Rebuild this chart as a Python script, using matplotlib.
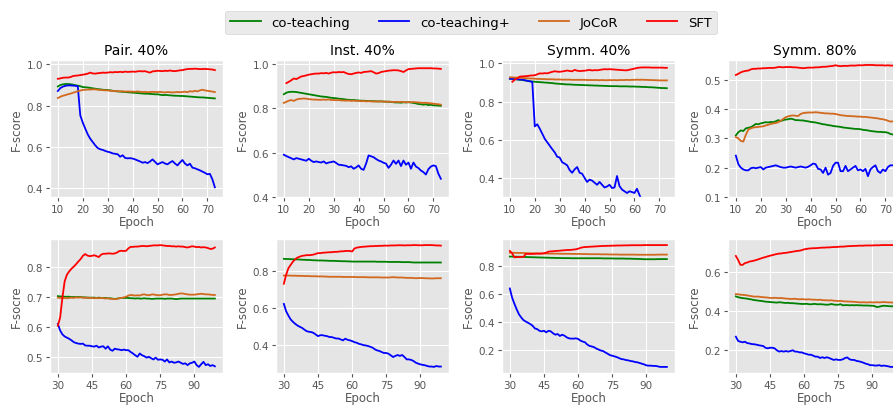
import numpy as np
import matplotlib
matplotlib.use('Agg')
import matplotlib.pyplot as plt

plt.style.use('ggplot')

top_epochs = np.arange(10, 74)
bottom_epochs = np.arange(30, 100)
nan = np.nan

methods = ['co-teaching', 'co-teaching+', 'JoCoR', 'SFT']
colors = ['green', 'blue', 'chocolate', 'red']
titles = ['Pair. 40%', 'Inst. 40%', 'Symm. 40%', 'Symm. 80%']

# ---- top row (epochs 10..73) ----
pair_ct = [0.893, 0.900, 0.903, 0.905, 0.905, 0.904, 0.902, 0.899, 0.897, 0.894, 0.890, 0.889, 0.888, 0.886, 0.884, 0.882,
           0.880, 0.879, 0.877, 0.876, 0.876, 0.874, 0.872, 0.870, 0.869, 0.868, 0.867, 0.866, 0.865, 0.864, 0.863, 0.862,
           0.861, 0.860, 0.859, 0.858, 0.858, 0.857, 0.856, 0.855, 0.855, 0.853, 0.851, 0.852, 0.851, 0.850, 0.849, 0.848,
           0.848, 0.847, 0.847, 0.846, 0.845, 0.844, 0.843, 0.842, 0.841, 0.840, 0.840, 0.839, 0.838, 0.837, 0.836, 0.835]
pair_ctp = [0.871, 0.885, 0.892, 0.896, 0.898, 0.898, 0.897, 0.896, 0.894, 0.753, 0.718, 0.689, 0.661, 0.640, 0.624, 0.608,
            0.595, 0.589, 0.586, 0.581, 0.577, 0.574, 0.569, 0.567, 0.565, 0.553, 0.560, 0.547, 0.545, 0.546, 0.544, 0.540,
            0.535, 0.530, 0.524, 0.527, 0.522, 0.530, 0.540, 0.528, 0.516, 0.522, 0.527, 0.520, 0.516, 0.525, 0.532, 0.520,
            0.511, 0.525, 0.537, 0.520, 0.511, 0.519, 0.500, 0.497, 0.492, 0.487, 0.481, 0.475, 0.468, 0.470, 0.444, 0.405]
pair_jocor = [0.837, 0.843, 0.848, 0.851, 0.855, 0.858, 0.862, 0.866, 0.870, 0.873, 0.876, 0.877, 0.878, 0.878, 0.879, 0.879,
              0.877, 0.876, 0.875, 0.874, 0.874, 0.872, 0.871, 0.871, 0.870, 0.869, 0.870, 0.868, 0.869, 0.868, 0.868, 0.867,
              0.869, 0.867, 0.866, 0.867, 0.865, 0.866, 0.867, 0.866, 0.866, 0.867, 0.865, 0.864, 0.866, 0.865, 0.864, 0.865,
              0.866, 0.865, 0.866, 0.868, 0.865, 0.870, 0.868, 0.872, 0.869, 0.874, 0.877, 0.874, 0.872, 0.870, 0.868, 0.866]
pair_sft = [0.930, 0.932, 0.935, 0.936, 0.936, 0.938, 0.943, 0.945, 0.946, 0.948, 0.950, 0.952, 0.955, 0.960, 0.956, 0.955,
            0.957, 0.958, 0.960, 0.959, 0.960, 0.962, 0.961, 0.963, 0.962, 0.964, 0.962, 0.965, 0.963, 0.964, 0.965, 0.964,
            0.966, 0.967, 0.966, 0.967, 0.963, 0.960, 0.966, 0.967, 0.969, 0.968, 0.967, 0.969, 0.968, 0.970, 0.968, 0.967,
            0.969, 0.971, 0.972, 0.975, 0.977, 0.978, 0.978, 0.979, 0.978, 0.977, 0.977, 0.978, 0.977, 0.976, 0.975, 0.972]

inst_ct = [0.862, 0.869, 0.872, 0.873, 0.873, 0.872, 0.870, 0.868, 0.866, 0.864, 0.862, 0.860, 0.858, 0.856, 0.854, 0.852,
           0.851, 0.850, 0.848, 0.846, 0.845, 0.844, 0.842, 0.841, 0.840, 0.838, 0.837, 0.836, 0.836, 0.835, 0.834, 0.833,
           0.833, 0.832, 0.832, 0.831, 0.831, 0.830, 0.830, 0.830, 0.829, 0.829, 0.828, 0.828, 0.826, 0.825, 0.825, 0.824,
           0.826, 0.825, 0.826, 0.825, 0.823, 0.821, 0.818, 0.817, 0.815, 0.817, 0.813, 0.815, 0.812, 0.812, 0.811, 0.810]
inst_ctp = [0.590, 0.584, 0.579, 0.574, 0.569, 0.575, 0.572, 0.569, 0.566, 0.563, 0.572, 0.563, 0.557, 0.560, 0.557, 0.555,
            0.560, 0.551, 0.555, 0.557, 0.560, 0.553, 0.545, 0.544, 0.542, 0.540, 0.534, 0.538, 0.527, 0.533, 0.542, 0.527,
            0.522, 0.550, 0.587, 0.583, 0.579, 0.571, 0.564, 0.560, 0.554, 0.550, 0.531, 0.545, 0.564, 0.549, 0.564, 0.539,
            0.564, 0.545, 0.555, 0.527, 0.555, 0.537, 0.530, 0.519, 0.512, 0.501, 0.525, 0.537, 0.542, 0.539, 0.505, 0.482]
inst_jocor = [0.823, 0.828, 0.833, 0.836, 0.832, 0.838, 0.841, 0.842, 0.843, 0.842, 0.840, 0.839, 0.838, 0.838, 0.837, 0.837,
              0.838, 0.837, 0.839, 0.836, 0.836, 0.835, 0.836, 0.834, 0.834, 0.833, 0.834, 0.832, 0.833, 0.832, 0.832, 0.831,
              0.832, 0.830, 0.831, 0.830, 0.829, 0.830, 0.829, 0.830, 0.829, 0.828, 0.829, 0.828, 0.827, 0.828, 0.827, 0.828,
              0.827, 0.826, 0.827, 0.826, 0.827, 0.826, 0.825, 0.824, 0.823, 0.824, 0.822, 0.821, 0.820, 0.818, 0.817, 0.815]
inst_sft = [nan, 0.912, 0.918, 0.925, 0.933, 0.930, 0.936, 0.942, 0.944, 0.947, 0.950, 0.952, 0.954, 0.955, 0.955, 0.957,
            0.956, 0.958, 0.955, 0.959, 0.961, 0.960, 0.962, 0.961, 0.962, 0.957, 0.953, 0.952, 0.955, 0.958, 0.960, 0.958,
            0.962, 0.963, 0.964, 0.966, 0.961, 0.955, 0.957, 0.962, 0.964, 0.966, 0.968, 0.969, 0.970, 0.970, 0.969, 0.966,
            0.962, 0.969, 0.975, 0.976, 0.977, 0.978, 0.979, 0.979, 0.979, 0.979, 0.979, 0.979, 0.978, 0.978, 0.977, 0.976]

symm40_ct = [0.920, 0.919, 0.918, 0.916, 0.914, 0.913, 0.911, 0.909, 0.907, 0.905, 0.904, 0.903, 0.902, 0.901, 0.900, 0.899,
             0.898, 0.897, 0.895, 0.894, 0.893, 0.892, 0.891, 0.890, 0.890, 0.889, 0.888, 0.888, 0.887, 0.887, 0.886, 0.886,
             0.885, 0.885, 0.884, 0.884, 0.883, 0.883, 0.882, 0.882, 0.881, 0.881, 0.881, 0.881, 0.880, 0.880, 0.880, 0.880,
             0.879, 0.879, 0.879, 0.878, 0.878, 0.877, 0.877, 0.876, 0.875, 0.875, 0.874, 0.873, 0.872, 0.871, 0.871, 0.870]
symm40_ctp = [0.920, 0.919, 0.918, 0.917, 0.916, 0.915, 0.912, 0.909, 0.906, 0.904, 0.670, 0.681, 0.658, 0.632, 0.605, 0.587,
              0.569, 0.551, 0.534, 0.511, 0.507, 0.482, 0.475, 0.466, 0.441, 0.427, 0.445, 0.457, 0.427, 0.422, 0.400, 0.379,
              0.391, 0.386, 0.375, 0.364, 0.379, 0.364, 0.350, 0.355, 0.364, 0.347, 0.350, 0.410, 0.357, 0.339, 0.330, 0.321,
              0.330, 0.326, 0.321, 0.343, 0.311, 0.280, nan, nan, nan, nan, nan, nan, nan, nan, nan, nan]
symm40_jocor = [0.927, 0.927, 0.926, 0.926, 0.925, 0.924, 0.923, 0.922, 0.921, 0.921, 0.920, 0.919, 0.919, 0.918, 0.918, 0.917,
                0.917, 0.917, 0.916, 0.916, 0.916, 0.915, 0.915, 0.915, 0.915, 0.914, 0.914, 0.914, 0.914, 0.914, 0.914, 0.913,
                0.913, 0.913, 0.913, 0.913, 0.912, 0.913, 0.912, 0.912, 0.913, 0.912, 0.913, 0.912, 0.913, 0.913, 0.913, 0.914,
                0.913, 0.914, 0.914, 0.915, 0.914, 0.915, 0.914, 0.914, 0.913, 0.913, 0.912, 0.912, 0.911, 0.911, 0.911, 0.911]
symm40_sft = [nan, 0.904, 0.915, 0.922, 0.931, 0.932, 0.933, 0.934, 0.936, 0.937, 0.938, 0.943, 0.948, 0.947, 0.949, 0.948,
              0.952, 0.956, 0.959, 0.957, 0.956, 0.958, 0.960, 0.963, 0.960, 0.959, 0.966, 0.962, 0.960, 0.961, 0.962, 0.964,
              0.966, 0.963, 0.965, 0.964, 0.966, 0.968, 0.970, 0.969, 0.970, 0.969, 0.968, 0.967, 0.966, 0.965, 0.964, 0.964,
              0.967, 0.970, 0.973, 0.976, 0.978, 0.979, 0.979, 0.979, 0.979, 0.978, 0.978, 0.978, 0.978, 0.978, 0.977, 0.977]

symm80_ct = [0.310, 0.321, 0.327, 0.325, 0.334, 0.336, 0.338, 0.343, 0.349, 0.348, 0.351, 0.353, 0.355, 0.354, 0.356, 0.355,
             0.358, 0.362, 0.359, 0.362, 0.364, 0.365, 0.367, 0.365, 0.362, 0.362, 0.361, 0.361, 0.359, 0.358, 0.356, 0.355,
             0.354, 0.352, 0.350, 0.348, 0.347, 0.345, 0.344, 0.342, 0.341, 0.340, 0.339, 0.337, 0.336, 0.335, 0.334, 0.333,
             0.332, 0.332, 0.331, 0.329, 0.328, 0.327, 0.325, 0.324, 0.323, 0.322, 0.322, 0.321, 0.321, 0.319, 0.315, 0.313]
symm80_ctp = [0.241, 0.212, 0.200, 0.194, 0.191, 0.191, 0.198, 0.200, 0.198, 0.200, 0.202, 0.194, 0.200, 0.202, 0.204, 0.206,
              0.208, 0.205, 0.202, 0.200, 0.200, 0.202, 0.204, 0.202, 0.200, 0.202, 0.204, 0.202, 0.200, 0.203, 0.208, 0.214,
              0.212, 0.196, 0.194, 0.182, 0.200, 0.176, 0.182, 0.206, 0.217, 0.217, 0.188, 0.188, 0.206, 0.188, 0.194, 0.200,
              0.206, 0.191, 0.194, 0.188, 0.196, 0.171, 0.194, 0.202, 0.208, 0.188, 0.182, 0.194, 0.188, 0.202, 0.208, 0.208]
symm80_jocor = [0.304, 0.300, 0.291, 0.289, 0.312, 0.330, 0.334, 0.337, 0.338, 0.339, 0.340, 0.341, 0.344, 0.346, 0.349, 0.351,
                0.352, 0.355, 0.360, 0.366, 0.372, 0.375, 0.377, 0.378, 0.377, 0.376, 0.383, 0.386, 0.387, 0.388, 0.388, 0.388,
                0.389, 0.388, 0.387, 0.386, 0.385, 0.385, 0.384, 0.384, 0.383, 0.381, 0.379, 0.378, 0.377, 0.376, 0.376, 0.375,
                0.375, 0.374, 0.374, 0.373, 0.373, 0.372, 0.371, 0.370, 0.369, 0.368, 0.366, 0.365, 0.363, 0.360, 0.357, 0.358]
symm80_sft = [0.516, 0.520, 0.525, 0.528, 0.530, 0.531, 0.535, 0.537, 0.537, 0.538, 0.538, 0.539, 0.539, 0.540, 0.540, 0.540,
              0.541, 0.543, 0.543, 0.542, 0.543, 0.543, 0.543, 0.542, 0.542, 0.541, 0.540, 0.539, 0.540, 0.541, 0.541, 0.541,
              0.542, 0.542, 0.543, 0.544, 0.544, 0.545, 0.546, 0.547, 0.549, 0.547, 0.546, 0.547, 0.547, 0.547, 0.548, 0.548,
              0.548, 0.549, 0.549, 0.549, 0.550, 0.550, 0.550, 0.550, 0.549, 0.549, 0.549, 0.549, 0.548, 0.549, 0.548, 0.548]

# ---- bottom row (epochs 30..99) ----
b1_ct = [0.703, 0.702, 0.702, 0.701, 0.701, 0.701, 0.700, 0.700, 0.700, 0.700, 0.700, 0.699, 0.699, 0.698, 0.698, 0.698,
         0.698, 0.697, 0.698, 0.697, 0.697, 0.697, 0.696, 0.696, 0.695, 0.694, 0.695, 0.696, 0.697, 0.697, 0.697, 0.697,
         0.696, 0.696, 0.695, 0.696, 0.695, 0.695, 0.696, 0.695, 0.695, 0.694, 0.694, 0.695, 0.695, 0.695, 0.695, 0.694,
         0.695, 0.695, 0.695, 0.694, 0.693, 0.694, 0.695, 0.695, 0.695, 0.695, 0.695, 0.695, 0.695, 0.695, 0.695, 0.695,
         0.695, 0.695, 0.695, 0.695, 0.695, 0.695]
b1_ctp = [0.610, 0.588, 0.575, 0.568, 0.564, 0.560, 0.555, 0.549, 0.546, 0.544, 0.543, 0.544, 0.538, 0.537, 0.537, 0.535,
          0.534, 0.537, 0.531, 0.534, 0.535, 0.527, 0.535, 0.524, 0.520, 0.527, 0.525, 0.524, 0.522, 0.524, 0.522, 0.522,
          0.516, 0.511, 0.505, 0.500, 0.511, 0.505, 0.502, 0.497, 0.500, 0.495, 0.491, 0.497, 0.490, 0.491, 0.490, 0.484,
          0.491, 0.481, 0.484, 0.480, 0.481, 0.484, 0.480, 0.476, 0.478, 0.472, 0.478, 0.480, 0.484, 0.472, 0.466, 0.475,
          0.483, 0.472, 0.475, 0.469, 0.472, 0.468]
b1_jocor = [0.698, 0.697, 0.696, 0.697, 0.696, 0.697, 0.698, 0.697, 0.699, 0.698, 0.699, 0.698, 0.697, 0.698, 0.697, 0.697,
            0.696, 0.697, 0.696, 0.697, 0.696, 0.695, 0.696, 0.694, 0.694, 0.693, 0.694, 0.696, 0.697, 0.699, 0.701, 0.705,
            0.707, 0.706, 0.705, 0.706, 0.705, 0.708, 0.709, 0.707, 0.706, 0.708, 0.709, 0.707, 0.706, 0.706, 0.708, 0.709,
            0.709, 0.707, 0.707, 0.708, 0.709, 0.711, 0.712, 0.712, 0.710, 0.709, 0.708, 0.708, 0.708, 0.709, 0.710, 0.711,
            0.710, 0.709, 0.709, 0.708, 0.707, 0.707]
b1_sft = [0.604, 0.631, 0.698, 0.753, 0.775, 0.786, 0.795, 0.802, 0.810, 0.819, 0.827, 0.838, 0.844, 0.839, 0.837, 0.838,
          0.840, 0.837, 0.834, 0.842, 0.845, 0.845, 0.846, 0.846, 0.845, 0.846, 0.849, 0.854, 0.855, 0.854, 0.855, 0.863,
          0.868, 0.868, 0.869, 0.869, 0.870, 0.871, 0.871, 0.870, 0.871, 0.872, 0.873, 0.873, 0.873, 0.874, 0.873, 0.872,
          0.871, 0.871, 0.870, 0.870, 0.869, 0.870, 0.869, 0.869, 0.867, 0.866, 0.868, 0.870, 0.869, 0.867, 0.868, 0.866,
          0.867, 0.866, 0.864, 0.861, 0.862, 0.866]

b2_ct = [0.869, 0.868, 0.868, 0.867, 0.867, 0.866, 0.866, 0.865, 0.864, 0.864, 0.863, 0.863, 0.862, 0.861, 0.861, 0.860,
         0.860, 0.860, 0.859, 0.859, 0.858, 0.858, 0.858, 0.857, 0.857, 0.856, 0.856, 0.856, 0.855, 0.855, 0.854, 0.854,
         0.854, 0.854, 0.854, 0.854, 0.854, 0.854, 0.854, 0.854, 0.854, 0.853, 0.853, 0.853, 0.853, 0.853, 0.852, 0.852,
         0.852, 0.852, 0.852, 0.852, 0.851, 0.851, 0.851, 0.851, 0.850, 0.849, 0.849, 0.849, 0.849, 0.849, 0.849, 0.849,
         0.849, 0.849, 0.849, 0.849, 0.849, 0.849]
b2_ctp = [0.623, 0.583, 0.559, 0.538, 0.525, 0.514, 0.505, 0.498, 0.492, 0.483, 0.474, 0.471, 0.469, 0.465, 0.456, 0.447,
          0.452, 0.452, 0.449, 0.447, 0.442, 0.442, 0.438, 0.434, 0.434, 0.429, 0.424, 0.433, 0.427, 0.424, 0.420, 0.414,
          0.411, 0.405, 0.402, 0.398, 0.396, 0.393, 0.389, 0.384, 0.375, 0.369, 0.366, 0.360, 0.355, 0.355, 0.351, 0.342,
          0.333, 0.339, 0.344, 0.339, 0.344, 0.333, 0.320, 0.320, 0.317, 0.311, 0.302, 0.297, 0.293, 0.290, 0.288, 0.284,
          0.281, 0.281, 0.279, 0.284, 0.281, 0.281]
b2_jocor = [0.778, 0.778, 0.778, 0.777, 0.777, 0.777, 0.776, 0.776, 0.776, 0.775, 0.775, 0.775, 0.774, 0.774, 0.774, 0.773,
            0.773, 0.773, 0.772, 0.772, 0.771, 0.771, 0.771, 0.771, 0.771, 0.771, 0.770, 0.770, 0.770, 0.770, 0.770, 0.770,
            0.769, 0.769, 0.769, 0.769, 0.769, 0.768, 0.768, 0.768, 0.768, 0.768, 0.768, 0.767, 0.767, 0.767, 0.767, 0.768,
            0.769, 0.768, 0.767, 0.767, 0.767, 0.766, 0.765, 0.765, 0.765, 0.764, 0.763, 0.764, 0.764, 0.764, 0.763, 0.763,
            0.762, 0.762, 0.762, 0.763, 0.763, 0.763]
b2_sft = [0.733, 0.782, 0.818, 0.836, 0.854, 0.867, 0.876, 0.881, 0.885, 0.887, 0.889, 0.889, 0.890, 0.892, 0.896, 0.900,
          0.900, 0.902, 0.903, 0.904, 0.905, 0.905, 0.907, 0.907, 0.908, 0.910, 0.910, 0.912, 0.912, 0.912, 0.909, 0.925,
          0.930, 0.932, 0.934, 0.935, 0.936, 0.937, 0.938, 0.938, 0.939, 0.939, 0.940, 0.940, 0.941, 0.941, 0.941, 0.942,
          0.942, 0.942, 0.943, 0.943, 0.943, 0.942, 0.943, 0.943, 0.943, 0.944, 0.944, 0.943, 0.943, 0.943, 0.944, 0.944,
          0.944, 0.944, 0.943, 0.942, 0.942, 0.941]

b3_ct = [0.866, 0.866, 0.865, 0.865, 0.865, 0.864, 0.864, 0.863, 0.862, 0.862, 0.861, 0.861, 0.860, 0.860, 0.859, 0.859,
         0.858, 0.858, 0.857, 0.857, 0.856, 0.856, 0.856, 0.855, 0.855, 0.855, 0.855, 0.854, 0.854, 0.854, 0.854, 0.854,
         0.854, 0.854, 0.854, 0.854, 0.854, 0.854, 0.854, 0.854, 0.854, 0.853, 0.853, 0.853, 0.853, 0.853, 0.852, 0.852,
         0.852, 0.852, 0.852, 0.851, 0.851, 0.851, 0.850, 0.850, 0.849, 0.849, 0.848, 0.847, 0.847, 0.847, 0.847, 0.847,
         0.847, 0.848, 0.848, 0.848, 0.848, 0.848]
b3_ctp = [0.638, 0.572, 0.529, 0.489, 0.454, 0.431, 0.412, 0.402, 0.393, 0.384, 0.372, 0.353, 0.348, 0.336, 0.332, 0.336,
          0.325, 0.336, 0.332, 0.318, 0.308, 0.313, 0.299, 0.308, 0.301, 0.289, 0.282, 0.280, 0.280, 0.282, 0.278, 0.266,
          0.259, 0.254, 0.238, 0.228, 0.224, 0.219, 0.209, 0.202, 0.195, 0.191, 0.181, 0.172, 0.162, 0.158, 0.153, 0.148,
          0.141, 0.134, 0.132, 0.127, 0.125, 0.120, 0.118, 0.113, 0.111, 0.106, 0.101, 0.096, 0.089, 0.087, 0.087, 0.085,
          0.085, 0.082, 0.078, 0.078, 0.078, 0.078]
b3_jocor = [0.894, 0.893, 0.893, 0.892, 0.892, 0.892, 0.891, 0.891, 0.890, 0.890, 0.889, 0.889, 0.889, 0.888, 0.888, 0.888,
            0.888, 0.887, 0.887, 0.887, 0.887, 0.887, 0.886, 0.886, 0.886, 0.886, 0.886, 0.885, 0.885, 0.885, 0.885, 0.885,
            0.884, 0.884, 0.884, 0.883, 0.883, 0.883, 0.883, 0.883, 0.882, 0.882, 0.882, 0.882, 0.881, 0.881, 0.881, 0.881,
            0.880, 0.880, 0.880, 0.880, 0.880, 0.880, 0.880, 0.880, 0.879, 0.879, 0.879, 0.879, 0.879, 0.879, 0.879, 0.879,
            0.879, 0.880, 0.880, 0.880, 0.880, 0.880]
b3_sft = [0.906, 0.889, 0.861, 0.862, 0.863, 0.864, 0.864, 0.885, 0.885, 0.885, 0.885, 0.886, 0.887, 0.887, 0.888, 0.889,
          0.894, 0.901, 0.903, 0.904, 0.906, 0.907, 0.908, 0.910, 0.911, 0.913, 0.913, 0.914, 0.916, 0.918, 0.922, 0.928,
          0.932, 0.934, 0.935, 0.936, 0.937, 0.938, 0.939, 0.940, 0.941, 0.942, 0.942, 0.943, 0.943, 0.944, 0.944, 0.945,
          0.945, 0.945, 0.946, 0.946, 0.946, 0.947, 0.947, 0.947, 0.947, 0.947, 0.947, 0.948, 0.948, 0.948, 0.948, 0.948,
          0.948, 0.948, 0.948, 0.948, 0.948, 0.948]

b4_ct = [0.475, 0.471, 0.468, 0.466, 0.465, 0.463, 0.461, 0.459, 0.456, 0.455, 0.453, 0.452, 0.450, 0.448, 0.447, 0.446,
         0.445, 0.444, 0.443, 0.445, 0.444, 0.442, 0.441, 0.442, 0.440, 0.440, 0.439, 0.438, 0.437, 0.436, 0.436, 0.437,
         0.435, 0.434, 0.436, 0.436, 0.434, 0.435, 0.434, 0.433, 0.432, 0.433, 0.436, 0.433, 0.432, 0.432, 0.435, 0.429,
         0.430, 0.430, 0.429, 0.430, 0.429, 0.430, 0.429, 0.429, 0.428, 0.428, 0.428, 0.427, 0.427, 0.425, 0.420, 0.422,
         0.425, 0.427, 0.426, 0.425, 0.424, 0.424]
b4_ctp = [0.267, 0.245, 0.241, 0.238, 0.241, 0.234, 0.232, 0.229, 0.228, 0.226, 0.223, 0.221, 0.219, 0.210, 0.207, 0.210,
          0.210, 0.207, 0.197, 0.190, 0.193, 0.190, 0.193, 0.190, 0.193, 0.197, 0.190, 0.190, 0.186, 0.186, 0.181, 0.178,
          0.174, 0.174, 0.169, 0.164, 0.164, 0.157, 0.161, 0.157, 0.161, 0.157, 0.152, 0.147, 0.150, 0.147, 0.147, 0.150,
          0.157, 0.160, 0.150, 0.147, 0.147, 0.142, 0.140, 0.137, 0.133, 0.128, 0.125, 0.120, 0.120, 0.118, 0.118, 0.120,
          0.116, 0.118, 0.116, 0.114, 0.111, 0.111]
b4_jocor = [0.487, 0.486, 0.484, 0.483, 0.482, 0.480, 0.478, 0.476, 0.474, 0.474, 0.474, 0.472, 0.471, 0.470, 0.469, 0.467,
            0.467, 0.468, 0.467, 0.466, 0.467, 0.465, 0.464, 0.463, 0.462, 0.462, 0.463, 0.461, 0.460, 0.461, 0.460, 0.459,
            0.460, 0.459, 0.458, 0.458, 0.457, 0.458, 0.456, 0.455, 0.455, 0.454, 0.455, 0.453, 0.452, 0.451, 0.452, 0.450,
            0.449, 0.449, 0.448, 0.448, 0.447, 0.446, 0.445, 0.444, 0.445, 0.444, 0.444, 0.445, 0.444, 0.444, 0.445, 0.444,
            0.445, 0.446, 0.445, 0.444, 0.444, 0.443]
b4_sft = [0.684, 0.663, 0.638, 0.638, 0.647, 0.650, 0.655, 0.657, 0.660, 0.663, 0.667, 0.671, 0.675, 0.678, 0.682, 0.685,
          0.688, 0.691, 0.694, 0.696, 0.697, 0.699, 0.700, 0.702, 0.704, 0.706, 0.708, 0.710, 0.711, 0.714, 0.718, 0.720,
          0.722, 0.723, 0.724, 0.724, 0.725, 0.726, 0.727, 0.727, 0.728, 0.728, 0.729, 0.730, 0.730, 0.731, 0.732, 0.732,
          0.733, 0.734, 0.735, 0.735, 0.736, 0.736, 0.737, 0.737, 0.737, 0.738, 0.738, 0.738, 0.738, 0.739, 0.739, 0.739,
          0.740, 0.740, 0.740, 0.740, 0.740, 0.740]

top_data = [[pair_ct, pair_ctp, pair_jocor, pair_sft],
            [inst_ct, inst_ctp, inst_jocor, inst_sft],
            [symm40_ct, symm40_ctp, symm40_jocor, symm40_sft],
            [symm80_ct, symm80_ctp, symm80_jocor, symm80_sft]]
bottom_data = [[b1_ct, b1_ctp, b1_jocor, b1_sft],
               [b2_ct, b2_ctp, b2_jocor, b2_sft],
               [b3_ct, b3_ctp, b3_jocor, b3_sft],
               [b4_ct, b4_ctp, b4_jocor, b4_sft]]
top_ylims = [(0.358, 1.021), (0.4, 1.016), (0.3, 1.018), (0.1, 0.567)]

fig = plt.figure(figsize=(8.93, 4.06), dpi=100)
W, H = 893.0, 406.0
col_left = [50, 276, 502, 728]
ax_w = 172.7

lines = []
for i in range(4):
    ax = fig.add_axes([col_left[i] / W, 1 - 198 / H, ax_w / W, 137 / H])
    for j in range(4):
        l, = ax.plot(top_epochs, top_data[i][j], color=colors[j], lw=1.3, label=methods[j])
        if i == 0:
            lines.append(l)
    ax.set_ylim(*top_ylims[i])
    ax.set_xticks([10, 20, 30, 40, 50, 60, 70])
    ax.set_title(titles[i], fontsize=10, pad=4)
    ax.set_xlabel('Epoch', fontsize=8.5, labelpad=1)
    ax.set_ylabel('F-score', fontsize=8.5, labelpad=3)
    ax.tick_params(labelsize=7.5, length=3, pad=2)

for i in range(4):
    ax = fig.add_axes([col_left[i] / W, 1 - 374 / H, ax_w / W, 134 / H])
    for j in range(4):
        ax.plot(bottom_epochs, bottom_data[i][j], color=colors[j], lw=1.3)
    ax.set_xticks([30, 45, 60, 75, 90])
    ax.set_xlabel('Epoch', fontsize=8.5, labelpad=1)
    ax.set_ylabel('F-socre', fontsize=8.5, labelpad=3)
    ax.tick_params(labelsize=7.5, length=3, pad=2)

fig.legend(handles=lines, labels=methods, loc='upper center', ncol=4,
           bbox_to_anchor=(471 / W, 1 - 5 / H), fontsize=9.5, frameon=True,
           columnspacing=2.2, handlelength=2.3, borderpad=0.4)

fig.savefig('out.png', dpi=100)
